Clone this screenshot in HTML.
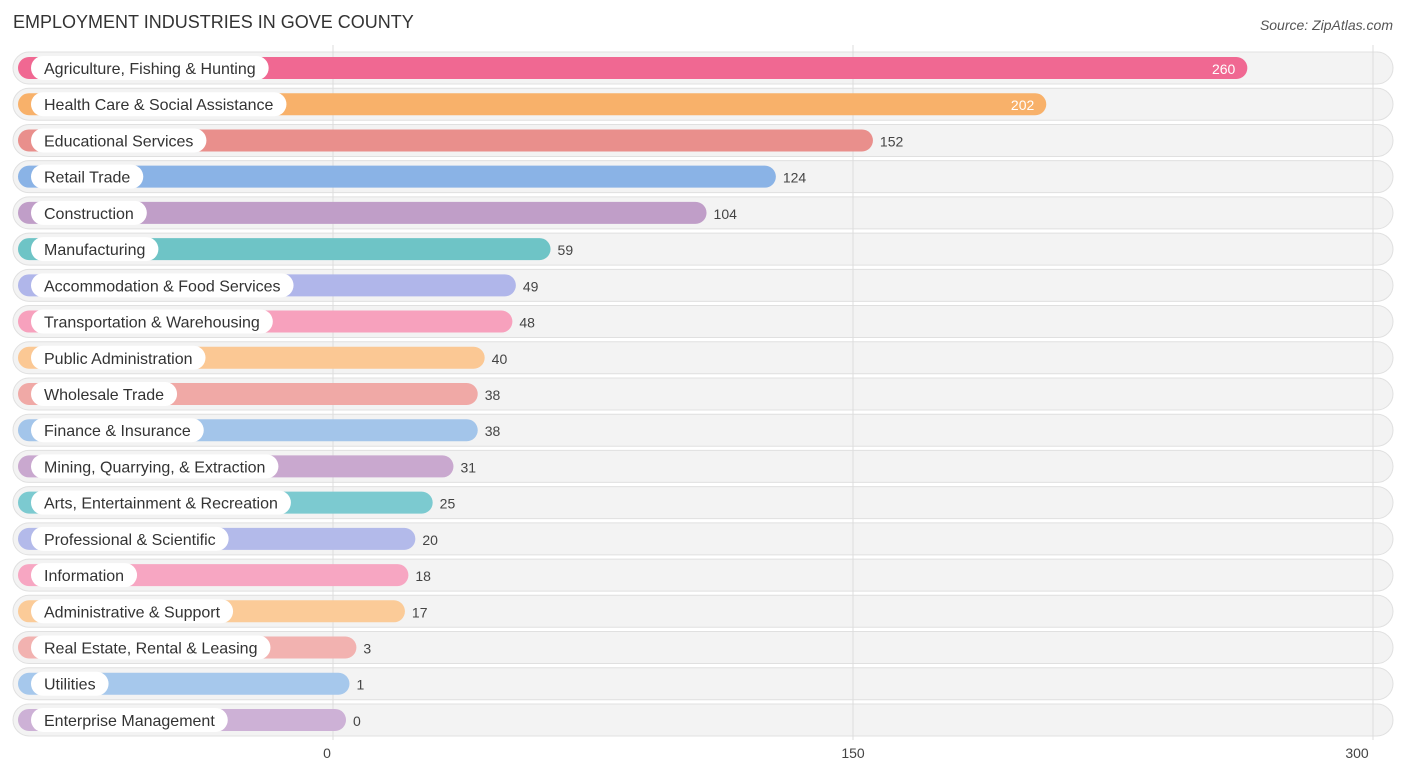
<!DOCTYPE html>
<html><head><meta charset="utf-8"><style>
body{margin:0;background:#fff;font-family:"Liberation Sans",sans-serif;}
#wrap{position:relative;width:1406px;height:776px;}
</style></head><body>
<div id="wrap">
<svg id="chart" width="1406" height="776" xmlns="http://www.w3.org/2000/svg">
<text x="13" y="28" font-size="18" fill="#333">EMPLOYMENT INDUSTRIES IN GOVE COUNTY</text>
<text x="1393" y="30" font-size="14" fill="#555" font-style="italic" text-anchor="end">Source: ZipAtlas.com</text>
<g id="bgs"></g><g id="grid"></g><g id="rows"></g><g id="axis"></g>
</svg>
</div>
<script>
const categories=["Agriculture, Fishing & Hunting","Health Care & Social Assistance","Educational Services","Retail Trade","Construction","Manufacturing","Accommodation & Food Services","Transportation & Warehousing","Public Administration","Wholesale Trade","Finance & Insurance","Mining, Quarrying, & Extraction","Arts, Entertainment & Recreation","Professional & Scientific","Information","Administrative & Support","Real Estate, Rental & Leasing","Utilities","Enterprise Management"];
const values=[260,202,152,124,104,59,49,48,40,38,38,31,25,20,18,17,3,1,0];
const tickValues=[0,150,300];
const colors=["#f06892","#f8b16a","#e98f8c","#8ab3e6","#c09ec8","#6ec4c6","#b0b6ea","#f7a1bd","#fbc894","#f0a9a6","#a3c5ea","#c9a8cf","#7ccad0","#b3baea","#f7a6c2","#fbcb98","#f2b2b0","#a6c8ec","#cdb1d6"];
const NS="http://www.w3.org/2000/svg";
const x0=333, pxPer=520/150;
const xs=v=>x0+v*pxPer;
const ys=i=>68+i*36.22;
function mk(tag,attrs,parent){const e=document.createElementNS(NS,tag);for(const k in attrs)e.setAttribute(k,attrs[k]);parent.appendChild(e);return e;}
const bgs=document.getElementById('bgs'),grid=document.getElementById('grid'),rows=document.getElementById('rows'),axis=document.getElementById('axis');
tickValues.forEach(t=>{
 const l=mk('line',{x1:xs(t),x2:xs(t),y1:45,y2:740,stroke:'#ddd','stroke-width':1},grid);
 
 
 const tx=mk('text',{x:xs(t)+(t===0?-6:(t===300?-16:0)),y:758,'font-size':14,fill:'#444','text-anchor':'middle'},axis);
 tx.textContent=t;
 
 
});
categories.forEach((c,i)=>{
 const y=ys(i);
 const bg=mk('rect',{x:13,y:y-16,width:1380,height:32,rx:16,fill:'#f3f3f3',stroke:'#e0e0e0','stroke-width':1},bgs);
 
 
 const g=mk('g',{},rows);
 
 
 const end=xs(values[i])+13;
 const bar=mk('rect',{x:18,y:y-11,width:end-18,height:22,rx:11,fill:colors[i]},g);
 
 
 const lbl=mk('text',{x:44,y:y+6,'font-size':16,fill:'#333'},g);
 lbl.textContent=c;
 const w=lbl.getComputedTextLength();
 const pill=mk('rect',{x:31,y:y-12,width:w+26,height:24,rx:12,fill:'#fff'},g);
 
 
 g.insertBefore(pill,lbl);
 
 
 const inside=values[i]>180;
 const vt=mk('text',{x:inside?end-12:end+7,y:y+6,'font-size':14,fill:inside?'#fff':'#444','text-anchor':inside?'end':'start'},g);
 vt.textContent=values[i];
 
 
});
</script>
</body></html>
